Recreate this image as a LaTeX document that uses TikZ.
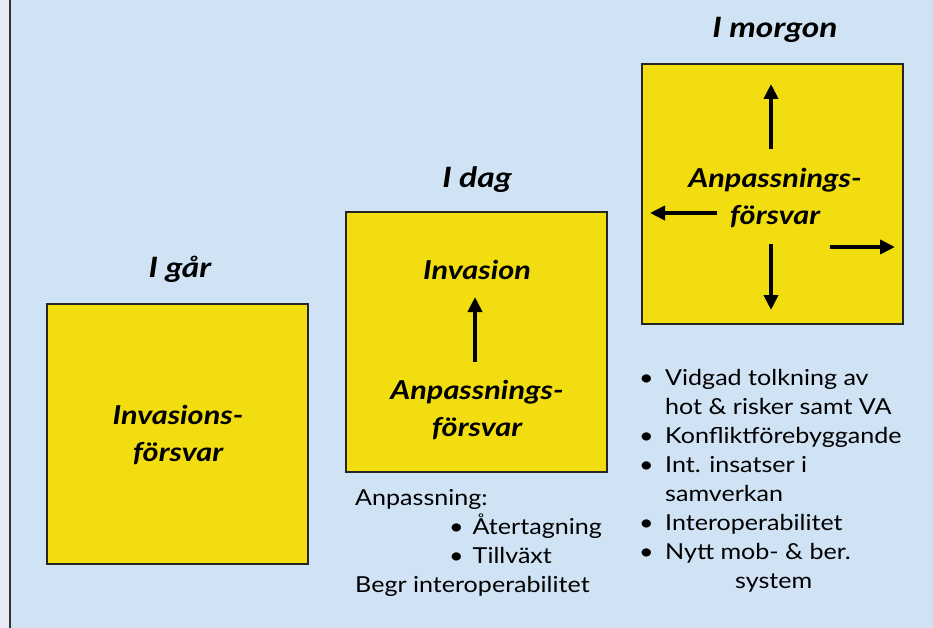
\documentclass[tikz,border=0pt]{standalone}
\usepackage{fontspec}
\setmainfont[FakeStretch=1.14]{Lato}
\newfontfamily\headfont[FakeStretch=1.2]{Lato}
\newfontfamily\boxfont[FakeStretch=1.18]{Lato}
\usetikzlibrary{arrows.meta}
\definecolor{bg}{RGB}{207,227,244}
\definecolor{strip}{RGB}{232,234,246}
\definecolor{boxyellow}{RGB}{242,221,16}
\newcommand{\bul}{\makebox[22pt][l]{\hspace{-4pt}\textbullet}}
\tikzset{
  panel/.style={draw=black!85, line width=1.3pt, fill=boxyellow, minimum width=261pt, minimum height=260pt, inner sep=0pt},
  title/.style={font=\headfont\fontsize{28}{30}\selectfont\bfseries\itshape, inner sep=0pt},
  boxtext/.style={font=\boxfont\fontsize{26}{37}\selectfont\bfseries\itshape, align=center, inner sep=0pt},
  listtext/.style={font=\fontsize{22}{29}\selectfont, align=left, inner sep=0pt},
  bigarrow/.style={line width=3.8pt, -{Triangle[length=15pt,width=14pt]}}
}
\begin{document}
\begin{tikzpicture}[x=1pt,y=-1pt]
\useasboundingbox (0,0) rectangle (933,628);
\fill[bg] (0,0) rectangle (933,628);
\fill[strip] (0,0) rectangle (9,628);
\draw[line width=1.6pt, black!80] (10,0) -- (10,628);

% I gar
\node[panel] (b1) at (177.5,434) {};
\node[title] (t1) at (180,269) {I går};
\node[boxtext] (b1txt) at (178,435) {Invasions-\\försvar};

% I dag
\node[panel] (b2) at (476.5,342) {};
\node[title] (t2) at (477,180) {I dag};
\node[boxtext] (inv) at (477,270) {Invasion};
\node[boxtext] (anp2) at (477,410) {Anpassnings-\\försvar};
\coordinate (a2s) at (475,362);
\coordinate (a2e) at (475,297);
\draw[bigarrow] (a2s) -- (a2e);

\node[listtext, anchor=north west] (l2) at (355,489) {Anpassning:\\
\hspace{94pt}\textbullet\hspace{9pt}Återtagning\\
\hspace{94pt}\textbullet\hspace{9pt}Tillväxt\\
Begr interoperabilitet};

% I morgon
\node[panel] (b3) at (772.5,194) {};
\node[title] (t3) at (775,30) {I morgon};
\node[boxtext] (anp3) at (775,198) {Anpassnings-\\försvar};
\coordinate (upstart) at (771,149);
\coordinate (upend) at (771,84);
\coordinate (leftstart) at (717,213);
\coordinate (leftend) at (650,213);
\coordinate (downstart) at (771,244);
\coordinate (downend) at (771,310);
\coordinate (rightstart) at (830,247);
\coordinate (rightend) at (895,247);
\draw[bigarrow] (upstart) -- (upend);
\draw[bigarrow] (leftstart) -- (leftend);
\draw[bigarrow] (downstart) -- (downend);
\draw[bigarrow] (rightstart) -- (rightend);

\node[listtext, anchor=north west] (l3) at (643,369) {\bul Vidgad tolkning av\\
\hspace{22pt}hot \& risker samt VA\\
\bul Konfliktförebyggande\\
\bul Int. insatser i\\
\hspace{22pt}samverkan\\
\bul Interoperabilitet\\
\bul Nytt mob- \& ber.\\
\hspace{92pt}system};
\end{tikzpicture}
\end{document}
